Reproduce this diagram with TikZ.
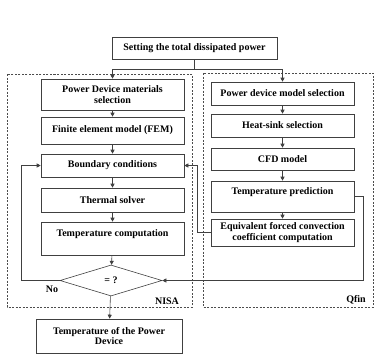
\documentclass[tikz,border=0pt]{standalone}
\usepackage{fontspec}
\setmainfont{Liberation Serif}
\usetikzlibrary{arrows.meta,shapes.geometric}

\tikzset{every picture/.style={line width=0.6pt}}
\tikzset{
  blk/.style={draw=black!75, rectangle, align=center, inner sep=1pt,
    font=\bfseries\fontsize{10}{10.5}\selectfont},
  arr/.style={draw=black!75, -{Triangle[length=4pt,width=4pt]}},
  frame/.style={draw=black!70, dash pattern=on 2pt off 1.5pt},
  lbl/.style={font=\bfseries\fontsize{10}{10.5}\selectfont, inner sep=0.75pt}
}

\begin{document}
\begin{tikzpicture}[x=1pt,y=1pt,yscale=-1]
\useasboundingbox (0,0) rectangle (381,360);

%Dashed frames
\draw[frame] (7,74) rectangle (192,307);
\draw[frame] (203,73) rectangle (373,307);

%Top box
\node[blk, minimum width=165, minimum height=22] (top) at (194.5,48) {Setting the total dissipated power};

%NISA column
\node[blk, minimum width=143, minimum height=31] (pdm) at (112.5,94.5) {Power Device materials\\selection};
\node[blk, minimum width=143, minimum height=27] (fem) at (112.5,130.5) {Finite element model (FEM)};
\node[blk, minimum width=143, minimum height=23] (bc) at (112.5,165.5) {Boundary conditions};
\node[blk, minimum width=143, minimum height=24] (ts) at (112.5,200) {Thermal solver};
\node[blk, minimum width=143, minimum height=33] (tc) at (112.5,238.5) {Temperature computation\\\mbox{}};
\node[blk, diamond, minimum width=102, minimum height=31, inner sep=0pt] (dec) at (111,280.5) {= ?};
\node[blk, minimum width=146, minimum height=34] (out) at (109,336) {Temperature of the Power\\Device};

%Qfin column
\node[blk, minimum width=143, minimum height=23] (pms) at (282.5,93.5) {Power device model selection};
\node[blk, minimum width=143, minimum height=23] (hs) at (282.5,125.5) {Heat-sink selection};
\node[blk, minimum width=143, minimum height=22] (cfd) at (282.5,159) {CFD model};
\node[blk, minimum width=143, minimum height=31] (tp) at (282.5,196.5) {Temperature prediction\\\mbox{}};
\node[blk, minimum width=143, minimum height=27] (efc) at (282.5,232.5) {Equivalent forced convection\\coefficient computation};

%Labels
\node[lbl] (no) at (52,289) {No};
\node[lbl] (nisa) at (167,301) {NISA};
\node[lbl] (qfin) at (356,300) {Qfin};

%Helper coordinates
\coordinate (split) at (197,69);
\coordinate (loopl) at (21,0);
\coordinate (loopm) at (197,0);
\coordinate (loopr) at (363,0);

%Connectors
\draw[draw=black!75] (top.south) -- (top.south |- split);
\draw[arr] (top.south |- split) -| (pdm.north);
\draw[arr] (top.south |- split) -| (pms.north);
\draw[arr] (pdm) -- (fem);
\draw[arr] (fem) -- (bc);
\draw[arr] (bc) -- (ts);
\draw[arr] (ts) -- (tc);
\draw[arr] (tc) -- (dec);
\draw[arr] (dec) -- (out);
\draw[arr] (pms) -- (hs);
\draw[arr] (hs) -- (cfd);
\draw[arr] (cfd) -- (tp);
\draw[arr] (tp) -- (efc);
\draw[arr] (dec.west) -- (dec.west -| loopl) |- (bc.west);
\draw[arr] (efc.west) -- (efc.west -| loopm) |- (bc.east);
\draw[arr] (tp.east) -- (tp.east -| loopr) |- (dec.east);

\end{tikzpicture}
\end{document}
